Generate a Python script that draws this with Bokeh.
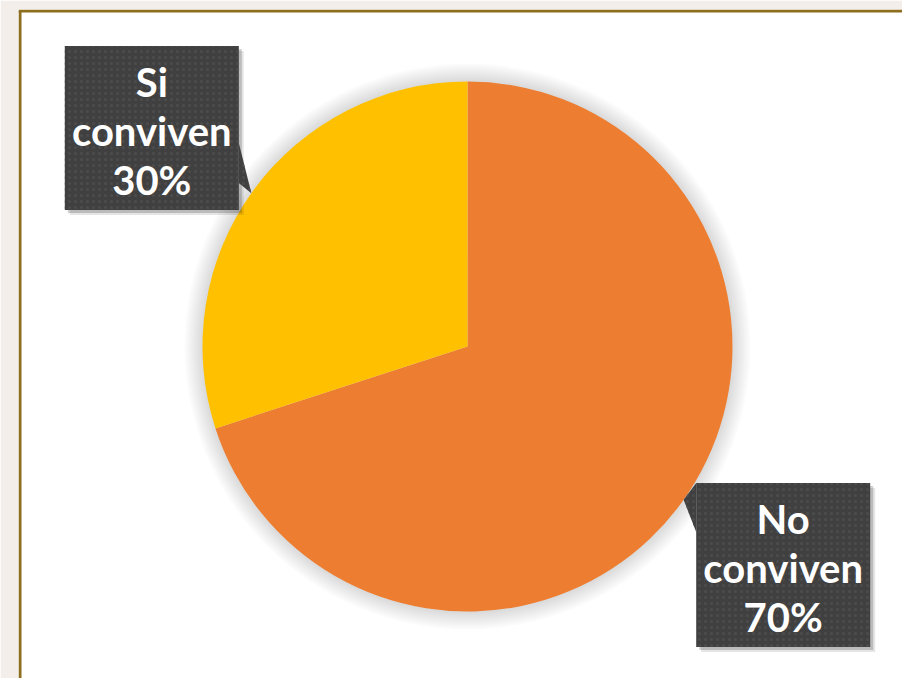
import math
from bokeh.plotting import figure
from bokeh.models import Range1d, ColumnDataSource
from bokeh.core.properties import value
from bokeh.embed import file_html
from bokeh.resources import INLINE

# ---- data ----
categories = ["No conviven", "Si conviven"]
percents = [70, 30]
colors = ["#ED7D31", "#FFC000"]

# ---- layout (pixels; pie centre at origin, y up) ----
W, H = 902, 678
CX, CY = 467, 346
FL, FT = 18, 9
R = 265
LABEL_DIST = 384
LABEL_ROT = math.radians(1.3)
BOX_HW, BOX_HH = 87, 82

p = figure(width=W, height=H, output_backend="svg", toolbar_location=None,
           x_range=Range1d(FL - CX, W - CX), y_range=Range1d(CY - H, CY - FT),
           min_border_left=FL, min_border_top=FT, min_border_right=0, min_border_bottom=0)
p.axis.visible = False
p.grid.visible = False
p.outline_line_color = None
p.background_fill_color = "white"
p.border_fill_color = "#F4EEEA"

xl, xr = p.x_range.start, p.x_range.end
yb, yt = p.y_range.start, p.y_range.end
# frame border (left and top)
p.segment(x0=[xl + 1.5, xl], y0=[yb, yt - 1.5], x1=[xl + 1.5, xr], y1=[yt - 1.5, yt - 1.5],
          line_color="#8C6E1E", line_width=3)

# soft shadow around the pie
for k in range(1, 10):
    p.circle(x=0, y=0, radius=R + 2 * k, fill_color="black", fill_alpha=0.016,
             line_color=None)

# wedges: start at 12 o'clock, clockwise
total = sum(percents)
starts, ends, mids = [], [], []
cur = math.pi / 2
for v in percents:
    a = 2 * math.pi * v / total
    starts.append(cur - a)
    ends.append(cur)
    mids.append(cur - a / 2)
    cur -= a

src = ColumnDataSource(dict(start=starts, end=ends, color=colors))
p.wedge(x=0, y=0, radius=R, start_angle="start", end_angle="end",
        fill_color="color", line_color=None, source=src)

# callout labels
for cat, v, m in zip(categories, percents, mids):
    cx = LABEL_DIST * math.cos(m + LABEL_ROT)
    cy = LABEL_DIST * math.sin(m + LABEL_ROT)
    tipx, tipy = R * math.cos(m + LABEL_ROT / 2), R * math.sin(m + LABEL_ROT / 2)
    bx = [cx - BOX_HW, cx + BOX_HW, cx + BOX_HW, cx - BOX_HW]
    by = [cy - BOX_HH, cy - BOX_HH, cy + BOX_HH, cy + BOX_HH]
    if cx < 0:
        ex = cx + BOX_HW
        pts_x = [ex, tipx, ex]
        pts_y = [cy - 15, tipy, cy - 55]
    else:
        ex = cx - BOX_HW
        pts_x = [ex, tipx, ex]
        pts_y = [cy + BOX_HH, tipy, cy + 33]
    for off, al in [(5, 0.10), (3, 0.18)]:
        p.patch([x + off for x in bx], [y - off for y in by], fill_color="black",
                fill_alpha=al, line_color=None)
    for xs, ys in [(bx, by), (pts_x, pts_y)]:
        p.patch(xs, ys, fill_color="#404040", line_color=None,
                hatch_pattern="dot", hatch_color="#4C4C4C", hatch_scale=6,
                hatch_weight=1)
    w1, w2 = cat.split(" ", 1)
    p.text(x=[cx], y=[cy - 3], text=[f"{w1}\n{w2}\n{v}%"], text_align="center",
           text_baseline="middle", text_color="white", text_font=value("Lato"),
           text_font_style="bold", text_font_size="40px", text_line_height=1.02)

open("out.html", "w").write(file_html(p, INLINE))
